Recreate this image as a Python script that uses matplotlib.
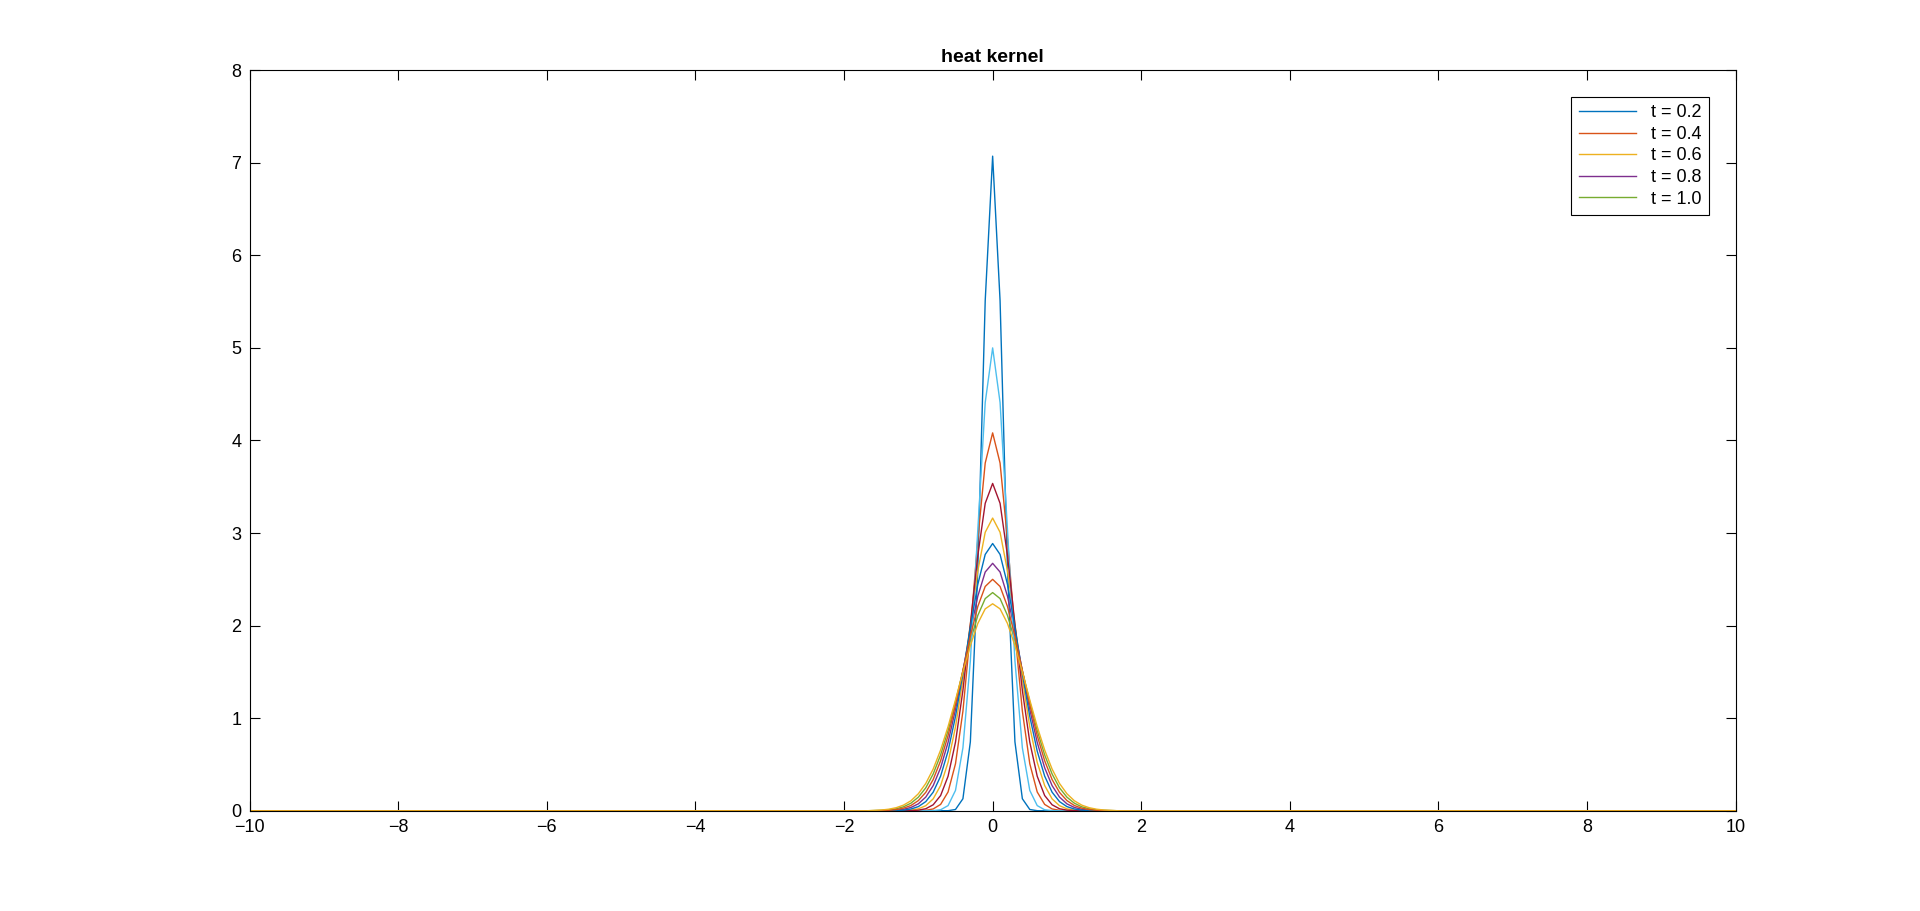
import numpy as np
import matplotlib
matplotlib.use("Agg")
import matplotlib.pyplot as plt

plt.rcParams['font.family'] = ['Liberation Sans', 'DejaVu Sans']

# half profiles, x = 0.0, 0.1, ... 1.6 (zero further out)
curve_1 = [7.071, 5.51, 2.60, 0.745, 0.13, 0.014, 0.001, 0, 0, 0, 0, 0, 0, 0, 0, 0, 0]
curve_2 = [5.0, 4.41, 3.03, 1.62, 0.68, 0.22, 0.056, 0.011, 0.002, 0, 0, 0, 0, 0, 0, 0, 0]
curve_3 = [4.082, 3.756, 2.925, 1.928, 1.076, 0.508, 0.203, 0.069, 0.020, 0.005, 0.001, 0, 0, 0, 0, 0, 0]
curve_4 = [3.536, 3.321, 2.754, 2.015, 1.301, 0.741, 0.373, 0.165, 0.065, 0.022, 0.007, 0.002, 0, 0, 0, 0, 0]
curve_5 = [3.162, 3.008, 2.589, 2.016, 1.421, 0.906, 0.523, 0.273, 0.129, 0.055, 0.021, 0.007, 0.002, 0, 0, 0, 0]
curve_6 = [2.887, 2.769, 2.444, 1.984, 1.482, 1.019, 0.644, 0.375, 0.201, 0.099, 0.045, 0.019, 0.007, 0.003, 0.001, 0, 0]
curve_7 = [2.673, 2.579, 2.317, 1.938, 1.509, 1.095, 0.739, 0.465, 0.272, 0.148, 0.075, 0.036, 0.016, 0.006, 0.002, 0.001, 0]
curve_8 = [2.5, 2.423, 2.206, 1.887, 1.516, 1.144, 0.812, 0.541, 0.338, 0.199, 0.110, 0.057, 0.028, 0.013, 0.005, 0.002, 0.001]
curve_9 = [2.357, 2.292, 2.109, 1.836, 1.511, 1.177, 0.867, 0.604, 0.398, 0.248, 0.147, 0.082, 0.043, 0.022, 0.010, 0.005, 0.002]
curve_10 = [2.236, 2.181, 2.023, 1.785, 1.499, 1.197, 0.909, 0.657, 0.451, 0.295, 0.184, 0.108, 0.061, 0.033, 0.017, 0.008, 0.004]

# plotting order as in the figure (odd ones first, then the even ones)
curves = [curve_1, curve_3, curve_5, curve_7, curve_9,
          curve_2, curve_4, curve_6, curve_8, curve_10]
labels = ['t = 0.2', 't = 0.4', 't = 0.6', 't = 0.8', 't = 1.0']

matlab_colors = ['#0072BD', '#D95319', '#EDB120', '#7E2F8E', '#77AC30', '#4DBEEE', '#A2142F']

x = np.round(np.arange(-100, 101) / 10, 1)


def full_profile(half):
    y = np.zeros(len(x))
    n = len(half)
    y[100:100 + n] = half
    y[100 - n + 1:101] = half[::-1]
    return y


fig = plt.figure(figsize=(19.2, 9.11), dpi=100)
ax = fig.add_axes([0.130, 0.110, 0.774, 0.813])
for i, c in enumerate(curves):
    lab = labels[i] if i < len(labels) else None
    ax.plot(x, full_profile(c), color=matlab_colors[i % 7], lw=1.0, label=lab)

ax.set_xlim(-10, 10)
ax.set_ylim(0, 8)
ax.set_xticks(range(-10, 11, 2))
ax.set_yticks(range(0, 9))
ax.tick_params(direction='in', top=True, right=True, labelsize=13, length=7, pad=6)
for s in ax.spines.values():
    s.set_linewidth(0.8)
ax.set_title('heat kernel', fontsize=14, fontweight='bold', pad=6)
leg = ax.legend(loc='upper right', fontsize=13, fancybox=False, edgecolor='black',
                framealpha=1, borderaxespad=1.5, handlelength=3.2, labelspacing=0.25)
leg.get_frame().set_linewidth(0.8)

fig.savefig('out.png', dpi=100)
